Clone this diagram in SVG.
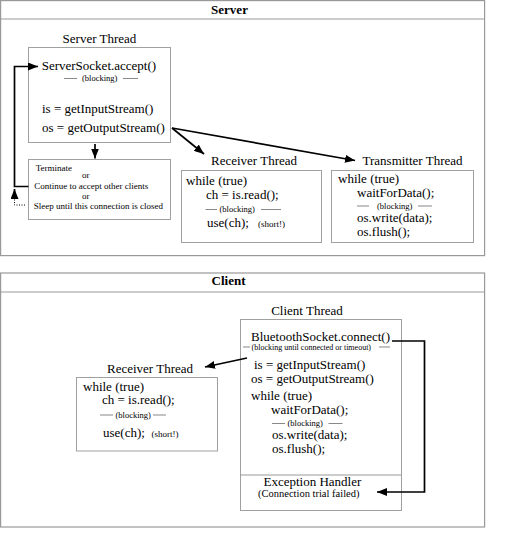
<svg xmlns="http://www.w3.org/2000/svg" width="508" height="543" viewBox="0 0 508 543">
<style>
text { font-family: "Liberation Serif", "Times New Roman", serif; font-size: 13px; fill: #000; }
.h { font-weight: bold; font-size: 13px; }
.s { font-size: 8.5px; }
.xs { font-size: 8px; }
.m { font-size: 9px; }
.e { font-size: 10.5px; }
.frame { fill: #fff; stroke: #999; stroke-width: 1.2; }
.box { fill: #fff; stroke: #a0a0a0; stroke-width: 1; }
.sep { stroke: #999; stroke-width: 1.2; fill: none; }
.dash { stroke: #555; stroke-width: 0.7; }
.conn { stroke: #000; stroke-width: 1.7; fill: none; }
.dot { stroke: #000; stroke-width: 1; fill: none; stroke-dasharray: 1 1.5; }
</style>
<defs>
<marker id="arr" viewBox="0 0 10 8" refX="10" refY="4" markerWidth="10" markerHeight="8" markerUnits="userSpaceOnUse" orient="auto">
<path d="M0,0 L10,4 L0,8 z" fill="#000"/>
</marker>
</defs>
<rect width="508" height="543" fill="#fff"/>

<g id="server">
<rect class="frame" x="0.6" y="0.6" width="484" height="255"/>
<line class="sep" x1="0.6" y1="19" x2="484.6" y2="19"/>
<text class="h" x="229.5" y="14" text-anchor="middle">Server</text>
</g>

<g id="server-thread">
<text x="99.5" y="42.5" text-anchor="middle">Server Thread</text>
<rect class="box" x="28.5" y="47.5" width="142" height="95"/>
<text x="41.7" y="70">ServerSocket.accept()</text>
<line class="dash" x1="64" y1="78.5" x2="77" y2="78.5"/>
<text class="s" x="82" y="81">(blocking)</text>
<line class="dash" x1="123" y1="78.5" x2="138" y2="78.5"/>
<text x="42" y="113">is = getInputStream()</text>
<text x="42" y="132">os = getOutputStream()</text>
</g>

<g id="server-options">
<rect class="box" x="28.5" y="159.5" width="142" height="60"/>
<text class="m" x="35.7" y="171">Terminate</text>
<text class="m" x="82" y="178">or</text>
<text class="m" x="34.3" y="188.5">Continue to accept other clients</text>
<text class="m" x="82" y="198.5">or</text>
<text class="m" x="33.7" y="208.5">Sleep until this connection is closed</text>
</g>

<g id="server-receiver">
<text x="254" y="165" text-anchor="middle">Receiver Thread</text>
<rect class="box" x="181.5" y="170.5" width="140" height="72"/>
<text x="186" y="185">while (true)</text>
<text x="206" y="199">ch = is.read();</text>
<line class="dash" x1="205.5" y1="209.5" x2="217" y2="209.5"/>
<text class="s" x="219.5" y="212">(blocking)</text>
<line class="dash" x1="261" y1="209.5" x2="281" y2="209.5"/>
<text x="207" y="226.5">use(ch);</text>
<text class="m" x="258" y="226.5">(short!)</text>
</g>

<g id="server-transmitter">
<text x="412.5" y="165" text-anchor="middle">Transmitter Thread</text>
<rect class="box" x="331.5" y="170.5" width="142" height="72"/>
<text x="338" y="183">while (true)</text>
<text x="357" y="196.5">waitForData();</text>
<line class="dash" x1="357" y1="206" x2="369" y2="206"/>
<text class="s" x="377" y="208.5">(blocking)</text>
<line class="dash" x1="418" y1="206" x2="432" y2="206"/>
<text x="357" y="221.5">os.write(data);</text>
<text x="357" y="235.5">os.flush();</text>
</g>

<g id="client">
<rect class="frame" x="0.6" y="273" width="484" height="254"/>
<line class="sep" x1="0.6" y1="292" x2="484.6" y2="292"/>
<text class="h" x="228.5" y="285" text-anchor="middle">Client</text>
</g>

<g id="client-receiver">
<text x="150" y="373" text-anchor="middle">Receiver Thread</text>
<rect class="box" x="76.5" y="377.5" width="141" height="73.5"/>
<text x="83" y="391">while (true)</text>
<text x="102" y="404">ch = is.read();</text>
<line class="dash" x1="100" y1="415" x2="113" y2="415"/>
<text class="s" x="115.5" y="417.5">(blocking)</text>
<line class="dash" x1="153" y1="415" x2="166" y2="415"/>
<text x="103" y="437">use(ch);</text>
<text class="m" x="151.5" y="437">(short!)</text>
</g>

<g id="client-thread">
<text x="307" y="315" text-anchor="middle">Client Thread</text>
<rect class="box" x="240.5" y="319.5" width="161" height="191"/>
<line class="sep" x1="240.5" y1="475" x2="401.5" y2="475"/>
<text x="251" y="341">BluetoothSocket.connect()</text>
<line class="dash" x1="243" y1="347" x2="250" y2="347"/>
<text class="xs" x="251.5" y="349.5">(blocking until connected or timeout)</text>
<line class="dash" x1="379" y1="347" x2="390" y2="347"/>
<text x="254" y="369">is = getInputStream()</text>
<text x="251" y="383">os = getOutputStream()</text>
<text x="251" y="400">while (true)</text>
<text x="271" y="414">waitForData();</text>
<line class="dash" x1="272" y1="423.5" x2="285" y2="423.5"/>
<text class="s" x="287.5" y="426">(blocking)</text>
<line class="dash" x1="328.5" y1="423.5" x2="342.5" y2="423.5"/>
<text x="272" y="439">os.write(data);</text>
<text x="272" y="452.5">os.flush();</text>
<text x="263.5" y="486">Exception Handler</text>
<text class="e" x="258" y="497">(Connection trial failed)</text>
</g>

<g id="connectors">
<path class="conn" d="M28.5,186.5 H14.5 V66.5 H38" marker-end="url(#arr)"/>
<path class="dot" d="M25,205 H14.5 V197"/>
<path class="conn" d="M14.5,197 V189" marker-end="url(#arr)"/>
<path class="conn" d="M95,144 V158.5" marker-end="url(#arr)"/>
<path class="conn" d="M172,128 L204,154" marker-end="url(#arr)"/>
<path class="conn" d="M172,128 L355,160.5" marker-end="url(#arr)"/>
<path class="conn" d="M392,341 H424.5 V492 H377" marker-end="url(#arr)"/>
<path class="conn" d="M247,358 L205,367" marker-end="url(#arr)"/>
</g>
</svg>
